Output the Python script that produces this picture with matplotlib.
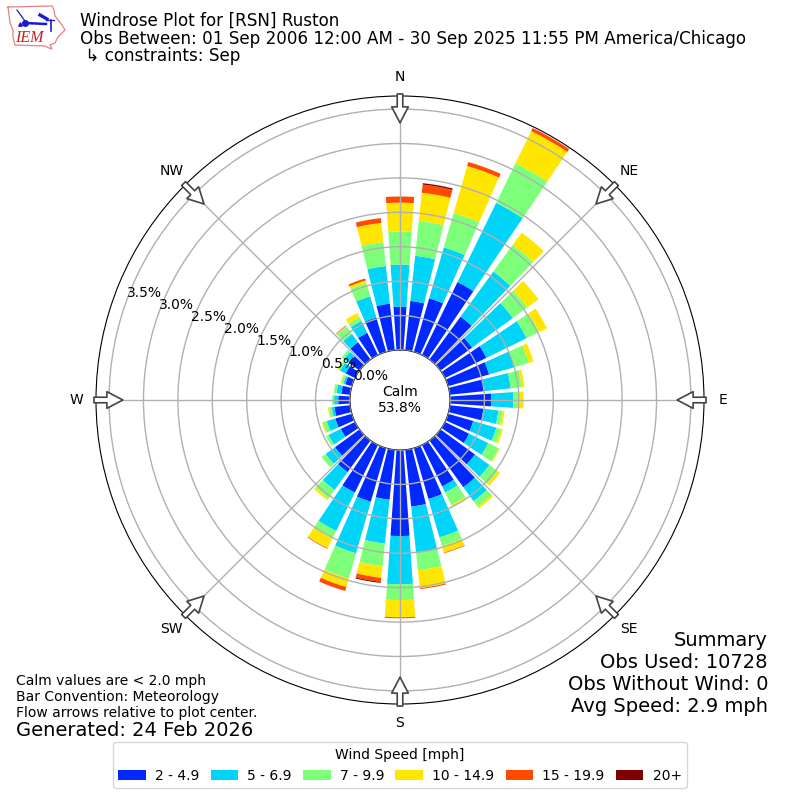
import numpy as np
import matplotlib
matplotlib.use("Agg")
import matplotlib.pyplot as plt

# Directions in degrees, one bar every 10 degrees
directions = np.arange(0, 360, 10)

speed_2_5 = [0.63, 0.72, 0.81, 1.18, 0.77, 0.57, 0.67, 0.62, 0.51, 0.60, 0.49, 0.38,
             0.39, 0.62, 0.84, 0.67, 0.77, 0.83, 1.25, 0.73, 0.81, 0.77, 0.57, 0.44,
             0.23, 0.25, 0.23, 0.17, 0.13, 0.10, 0.15, 0.19, 0.31, 0.36, 0.52, 0.68]
speed_5_7 = [0.61, 0.66, 0.77, 1.28, 0.81, 0.73, 0.65, 0.38, 0.38, 0.32, 0.22, 0.35,
             0.31, 0.26, 0.25, 0.10, 0.58, 0.67, 0.70, 0.64, 0.78, 0.62, 0.32, 0.17,
             0.20, 0.13, 0.04, 0.06, 0.07, 0.03, 0.09, 0.09, 0.15, 0.19, 0.32, 0.55]
speed_7_10 = [0.48, 0.51, 0.52, 0.64, 0.48, 0.26, 0.20, 0.22, 0.16, 0.09, 0.06, 0.07,
              0.17, 0.15, 0.10, 0.20, 0.13, 0.26, 0.23, 0.33, 0.38, 0.12, 0.15, 0.07,
              0.04, 0.06, 0.04, 0.03, 0.04, 0.03, 0.03, 0.04, 0.13, 0.06, 0.20, 0.35]
speed_10_15 = [0.42, 0.41, 0.71, 0.52, 0.22, 0.20, 0.13, 0.07, 0.04, 0.06, 0.03, 0.03,
               0.015, 0.04, 0.03, 0.03, 0.10, 0.26, 0.25, 0.17, 0.13, 0.16, 0.03, 0.0,
               0.0, 0.015, 0.015, 0.0, 0.0, 0.015, 0.015, 0.0, 0.01, 0.07, 0.04, 0.28]
speed_15_20 = [0.09, 0.12, 0.06, 0.05, 0.0, 0.0, 0.0, 0.0, 0.0, 0.0, 0.0, 0.0,
               0.0, 0.0, 0.0, 0.0, 0.01, 0.015, 0.015, 0.06, 0.06, 0.01, 0.0, 0.0,
               0.0, 0.0, 0.0, 0.0, 0.0, 0.0, 0.0, 0.0, 0.01, 0.0, 0.03, 0.07]
speed_20 = [0.0, 0.02, 0.0, 0.0, 0.0, 0.0, 0.0, 0.0, 0.0, 0.0, 0.0, 0.0,
            0.0, 0.0, 0.0, 0.0, 0.0, 0.0, 0.0, 0.015, 0.0, 0.0, 0.0, 0.0,
            0.0, 0.0, 0.0, 0.0, 0.0, 0.0, 0.0, 0.0, 0.0, 0.0, 0.0, 0.0]

series = [speed_2_5, speed_5_7, speed_7_10, speed_10_15, speed_15_20, speed_20]
speed_labels = ["2 - 4.9", "5 - 6.9", "7 - 9.9", "10 - 14.9", "15 - 19.9", "20+"]
colors = ["#0028ff", "#00d5f9", "#7dff7a", "#ffe600", "#ff4a00", "#7f0000"]

compass_deg = [0, 45, 90, 135, 180, 225, 270, 315]
compass_labels = ["N", "NE", "E", "SE", "S", "SW", "W", "NW"]
ring_values = [0.0, 0.5, 1.0, 1.5, 2.0, 2.5, 3.0, 3.5]
ring_labels = ["0.0%", "0.5%", "1.0%", "1.5%", "2.0%", "2.5%", "3.0%", "3.5%"]

fig = plt.figure(figsize=(8, 8), dpi=100)
ax = fig.add_axes([0.12, 0.12, 0.76, 0.76], projection="polar")
ax.set_theta_zero_location("N")
ax.set_theta_direction(-1)

# Stack the speed bins outward
theta = np.radians(directions)
bottom = np.zeros(len(directions))
handles = []
for values, color, label in zip(series, colors, speed_labels):
    bars = ax.bar(theta, values, width=np.radians(8), bottom=bottom,
                  color=color, linewidth=0, label=label)
    handles.append(bars)
    bottom = bottom + np.array(values)

ax.set_rorigin(-0.727)
ax.set_ylim(0, 3.69)
ax.set_axisbelow(False)
ax.grid(True, color="#b0b0b0", linewidth=1.0)
ax.set_xticks(np.radians(compass_deg))
ax.set_xticklabels(compass_labels, fontsize=10)
ax.tick_params(axis="x", pad=3.5)
ax.set_yticks(ring_values)
ax.set_yticklabels(ring_labels, fontsize=10)
ax.set_rlabel_position(290)

# Block arrows around the edge, pointing at the centre
for deg in compass_deg:
    t = np.radians(deg)
    ax.annotate("", xy=(t, 3.30), xytext=(t, 3.72), annotation_clip=False,
                arrowprops=dict(width=4.0, headwidth=12, headlength=11.5, shrink=0,
                                facecolor="white", edgecolor="#444444", linewidth=1.2))

fig.text(0.5, 0.5, "Calm\n53.8%", ha="center", va="center", fontsize=10)

# Titles
fig.text(80 / 800, 1 - 26 / 800, "Windrose Plot for [RSN] Ruston", fontsize=12.02, va="baseline")
fig.text(80 / 800, 1 - 43.5 / 800,
         "Obs Between: 01 Sep 2006 12:00 AM - 30 Sep 2025 11:55 PM America/Chicago",
         fontsize=12.02, va="baseline")
fig.text(80 / 800, 1 - 61 / 800, " \u21b3 constraints: Sep", fontsize=12.02, va="baseline")

# Footer notes
fig.text(16 / 800, 1 - 681 / 800, "Calm values are < 2.0 mph", fontsize=10, va="center")
fig.text(16 / 800, 1 - 697 / 800, "Bar Convention: Meteorology", fontsize=10, va="center")
fig.text(16 / 800, 1 - 713 / 800, "Flow arrows relative to plot center.", fontsize=10, va="center")
fig.text(16 / 800, 1 - 731 / 800, "Generated: 24 Feb 2026", fontsize=14, va="center")

fig.text(768 / 800, 1 - 646 / 800, "Summary", fontsize=14, ha="right", va="baseline")
fig.text(768 / 800, 1 - 668 / 800, "Obs Used: 10728", fontsize=14, ha="right", va="baseline")
fig.text(768 / 800, 1 - 690 / 800, "Obs Without Wind: 0", fontsize=14, ha="right", va="baseline")
fig.text(768 / 800, 1 - 711.5 / 800, "Avg Speed: 2.9 mph", fontsize=14, ha="right", va="baseline")

fig.legend(handles=handles, labels=speed_labels, title="Wind Speed [mph]", ncol=6,
           loc="lower center", bbox_to_anchor=(0.5, 0.006), fontsize=10, title_fontsize=10,
           columnspacing=0.8, handletextpad=0.65)

# Little IEM logo, drawn in pixels
logo = fig.add_axes([0, 1 - 60 / 800, 80 / 800, 60 / 800])
logo.set_xlim(0, 80)
logo.set_ylim(60, 0)
logo.axis("off")
iowa_x = [8, 52, 54, 55, 62, 65, 60, 58, 55, 50, 52, 49, 45, 15, 13, 13, 10, 9, 8]
iowa_y = [7, 6, 10, 16, 25, 30, 35, 37, 43, 45, 49, 48, 46, 45, 37, 30, 23, 15, 7]
logo.plot(iowa_x, iowa_y, color="#e88080", linewidth=0.9)
logo.plot([25, 46], [23, 24], color="#1a1ad0", linewidth=1.8)
logo.plot([46, 54], [20, 20], color="#1a1ad0", linewidth=0.9)
logo.plot([40, 47], [15, 19], color="#1a1ad0", linewidth=2.4)
logo.plot([17, 25], [10, 21], color="#1a1ad0", linewidth=0.9)
logo.plot([51, 51], [20, 31], color="#1a1ad0", linewidth=1.2)
logo.plot([25], [23], "o", color="#1a1ad0", markersize=4)
logo.plot([20], [24], "^", color="#1a1ad0", markersize=2.5)
logo.text(29.5, 38.5, "IEM", color="#c81e1e", fontsize=11.5, style="italic",
          family="Liberation Serif", ha="center", va="center")

fig.savefig("out.png", dpi=100)
